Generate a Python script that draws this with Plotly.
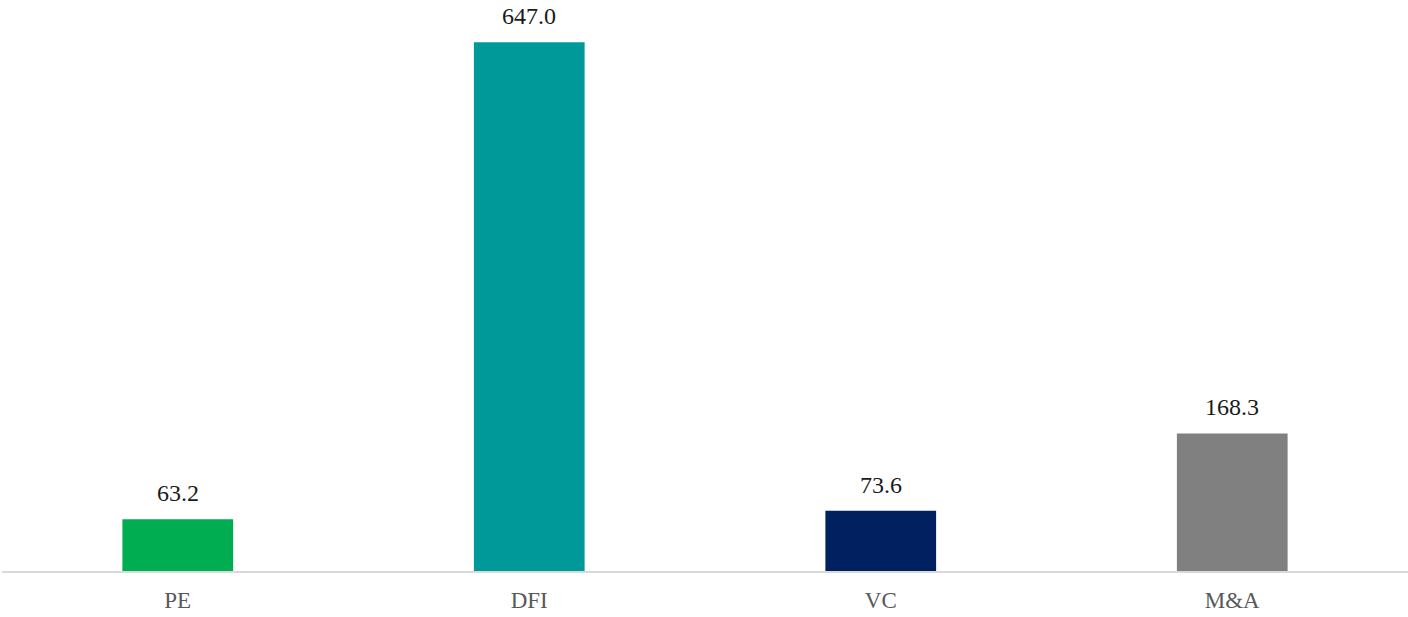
import plotly.graph_objects as go

categories = ["PE", "DFI", "VC", "M&A"]
values = [63.2, 647.0, 73.6, 168.3]
colors = ["#00AD50", "#009999", "#002060", "#808080"]
labels = [f"{v:.1f}" for v in values]

fig = go.Figure(go.Bar(
    x=categories, y=values, marker_color=colors, width=0.315,
    marker_line_width=0, hoverinfo="skip",
))
for c, v, t in zip(categories, values, labels):
    fig.add_annotation(x=c, y=v, text=t, showarrow=False, yanchor="bottom",
                       yshift=11, font=dict(family="Liberation Serif", size=24, color="#1a1a1a"))

fig.update_layout(
    width=1408, height=617,
    margin=dict(l=2, r=0, t=7, b=46),
    plot_bgcolor="white", paper_bgcolor="white",
    showlegend=False,
    xaxis=dict(showline=True, linecolor="#D9D9D9", linewidth=2, ticks="",
               tickfont=dict(family="Liberation Serif", size=23, color="#595959"),
               ticklabelstandoff=7,
               showgrid=False, zeroline=False),
    yaxis=dict(range=[0, 690], visible=False, showgrid=False, zeroline=False),
)
fig.write_html("out.html", config={"displayModeBar": False},
               post_script="document.body.style.margin='0';")
